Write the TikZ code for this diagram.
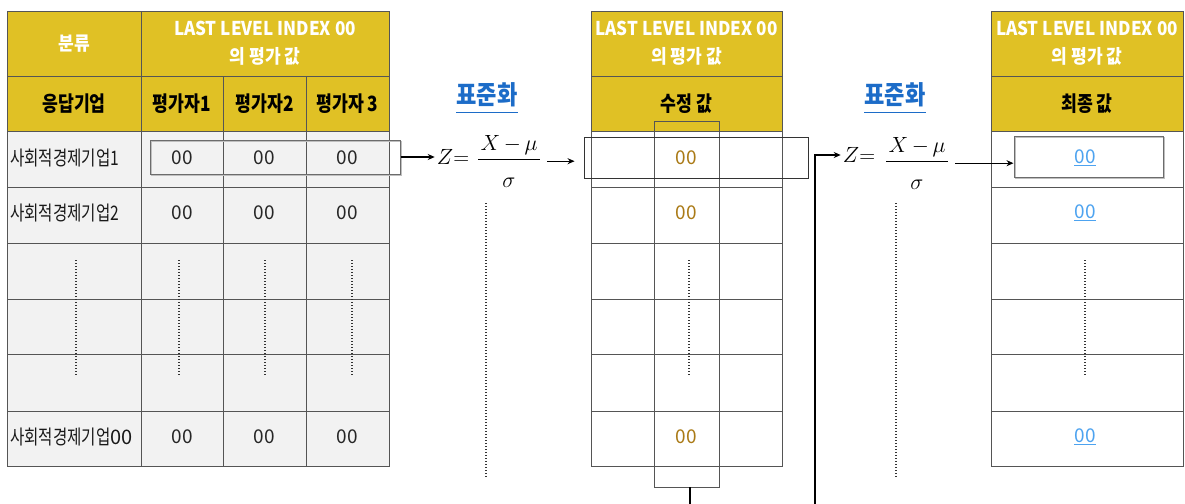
\RequirePackage{fix-cm}
\documentclass[tikz,border=0pt]{standalone}
\usepackage{fontspec}
\usepackage{amsmath}
\usetikzlibrary{arrows.meta,calc}
\newfontfamily\krc[FakeStretch=0.78]{Noto Sans CJK KR}
\newfontfamily\krh[FakeStretch=0.82]{Noto Sans CJK KR}
\newfontfamily\krw[FakeStretch=0.90]{Noto Sans CJK KR}
\newfontfamily\krn{Noto Sans CJK KR}
\newfontfamily\krt[FakeStretch=0.85]{Noto Sans CJK KR}
\definecolor{hgold}{RGB}{224,193,37}
\definecolor{bodyg}{RGB}{242,242,242}
\definecolor{gridc}{RGB}{85,85,85}
\definecolor{brownv}{RGB}{170,122,22}
\definecolor{bluev}{RGB}{77,163,240}
\definecolor{blueh}{RGB}{28,108,200}
\tikzset{
  hcell/.style={draw=gridc, line width=0.9pt, fill=hgold, inner sep=0pt},
  bcellg/.style={draw=gridc, line width=0.9pt, fill=bodyg, inner sep=0pt},
  bcellw/.style={draw=gridc, line width=0.9pt, fill=white, inner sep=0pt},
  wtxt/.style={text=white, align=center, font={\krw\bfseries\fontsize{19}{28}\selectfont}},
  htxt/.style={text=black, font={\krh\bfseries\fontsize{21}{24}\selectfont}},
  ktxt/.style={text=black!90, anchor=west, inner sep=0pt, font={\krc\fontsize{20}{22}\selectfont}},
  ntxt/.style={text=black!85, font={\krn\fontsize{19}{22}\selectfont}},
  btxt/.style={text=brownv, font={\krn\fontsize{19}{22}\selectfont}},
  ltxt/.style={text=bluev, font={\krn\fontsize{19}{22}\selectfont}},
  dots/.style={line width=1.1pt, black!80, dash pattern=on 1pt off 2pt},
  hlbox/.style={draw=gray!85!black, line width=1pt, inner sep=0pt,
    preaction={draw=gray!50, line width=1.8pt, transform canvas={shift={(1.4pt,-1.4pt)}}}},
  frame/.style={draw=black!80, line width=0.9pt, inner sep=0pt},
  arr/.style={line width=1.2pt, -{Stealth[length=7pt,width=6pt]}},
  conn/.style={line width=1.2pt},
  zeq/.style={inner sep=2pt, font=\fontsize{22}{26}\selectfont},
  fml/.style={inner sep=0pt, font=\fontsize{22}{26}\selectfont},
  std/.style={text=blueh, inner sep=0pt, font={\krt\bfseries\fontsize{26}{28}\selectfont}},
}
\newcommand{\zlhs}{$Z{=}$}
\newcommand{\zfrac}{$\dfrac{\mkern2mu X\mkern3mu{-}\mkern3mu\mu\mkern2mu}{\rule{0pt}{25pt}\sigma}$}
\begin{document}
\begin{tikzpicture}[x=1pt,y=-1pt]
\useasboundingbox (0,0) rectangle (1185,503);
\fill[white] (0,0) rectangle (1185,503);

% ---------- left table ----------
\node[hcell, minimum width=134, minimum height=65] (lh1) at (74,43.5) {};
\node[wtxt] (lh1t) at (74,43.5) {분류};
\node[hcell, minimum width=248, minimum height=65] (lh2) at (265,43.5) {};
\node[wtxt] (lh2t) at (265,43.5) {LAST LEVEL INDEX 00\\의 평가 값};
\node[hcell, minimum width=134, minimum height=55] (lh3) at (74,103.5) {};
\node[htxt] (lh3t) at (74,103.5) {응답기업};
\node[hcell, minimum width=82, minimum height=55] (lh4) at (182,103.5) {};
\node[htxt] (lh4t) at (182,103.5) {평가자1};
\node[hcell, minimum width=83, minimum height=55] (lh5) at (264.5,103.5) {};
\node[htxt] (lh5t) at (264.5,103.5) {평가자2};
\node[hcell, minimum width=83, minimum height=55] (lh6) at (347.5,103.5) {};
\node[htxt] (lh6t) at (347.5,103.5) {평가자 3};

\foreach \a/\b/\i in {131/187/1,187/243/2,243/299/3,299/354/4,354/411/5,411/466/6}{
  \node[bcellg, minimum width=134, minimum height={\b-\a}] (l\i a) at (74,{(\a+\b)/2}) {};
  \node[bcellg, minimum width=82, minimum height={\b-\a}] (l\i b) at (182,{(\a+\b)/2}) {};
  \node[bcellg, minimum width=83, minimum height={\b-\a}] (l\i c) at (264.5,{(\a+\b)/2}) {};
  \node[bcellg, minimum width=83, minimum height={\b-\a}] (l\i d) at (347.5,{(\a+\b)/2}) {};
}
\node[ktxt] (k1) at (10,158) {사회적경제기업1};
\node[ktxt] (k2) at (10,213) {사회적경제기업2};
\node[ktxt] (k6) at (10,437) {사회적경제기업{\krn 00}};
\foreach \y/\i in {158/1,213/2,437/6}{
  \node[ntxt] (n\i b) at (182,\y) {00};
  \node[ntxt] (n\i c) at (264.5,\y) {00};
  \node[ntxt] (n\i d) at (347.5,\y) {00};
}
\foreach \x in {76,179,265,352}{\draw[dots] (\x,260) -- (\x,376);}

\node[hlbox, minimum width=250, minimum height=34] (L1) at (275,157) {};

% ---------- formula 1 ----------
\node[std] (S1) at (487,95) {표준화};
\draw[blueh, line width=1.5pt] ([yshift=-5pt]S1.south west) -- ([yshift=-5pt]S1.south east);
\node[zeq] (F1z) at (453,157) {\zlhs};
\node[fml] (F1) at (509,161.2) {\zfrac};
\draw[dots] (486,203) -- (486,478);

% ---------- middle table ----------
\node[hcell, minimum width=191, minimum height=65] (mh1) at (686.5,43.5) {};
\node[wtxt] (mh1t) at (686.5,43.5) {LAST LEVEL INDEX 00\\의 평가 값};
\node[hcell, minimum width=191, minimum height=55] (mh2) at (686.5,103.5) {};
\node[htxt] (mh2t) at (686.5,103.5) {수정 값};
\foreach \a/\b/\i in {131/187/1,187/243/2,243/299/3,299/354/4,354/411/5,411/466/6}{
  \node[bcellw, minimum width=191, minimum height={\b-\a}] (m\i) at (686.5,{(\a+\b)/2}) {};
}
\foreach \y/\i in {158/1,213/2,437/6}{\node[btxt] (mv\i) at (686,\y) {00};}
\draw[dots] (689,260) -- (689,376);
\node[frame, draw=gridc, minimum width=65, minimum height=366] (MI) at (686.5,304) {};
\node[frame, minimum width=224, minimum height=41] (M1) at (696,157.5) {};

% ---------- formula 2 ----------
\node[std] (S2) at (895,95) {표준화};
\draw[blueh, line width=1.5pt] ([yshift=-5pt]S2.south west) -- ([yshift=-5pt]S2.south east);
\node[zeq] (F2z) at (859,155) {\zlhs};
\node[fml] (F2) at (917,163.2) {\zfrac};
\draw[dots] (896,203) -- (896,478);

% ---------- right table ----------
\node[hcell, minimum width=192, minimum height=65] (rh1) at (1087,43.5) {};
\node[wtxt] (rh1t) at (1087,43.5) {LAST LEVEL INDEX 00\\의 평가 값};
\node[hcell, minimum width=192, minimum height=55] (rh2) at (1087,103.5) {};
\node[htxt] (rh2t) at (1087,103.5) {최종 값};
\foreach \a/\b/\i in {131/187/1,187/243/2,243/299/3,299/354/4,354/411/5,411/466/6}{
  \node[bcellw, minimum width=192, minimum height={\b-\a}] (r\i) at (1087,{(\a+\b)/2}) {};
}
\foreach \y/\i in {158/1,213/2,437/6}{\node[ltxt] (rv\i) at (1085,\y) {\underline{00}};}
\draw[dots] (1085,260) -- (1085,376);
\node[hlbox, minimum width=149, minimum height=41] (R1) at (1088.5,156.5) {};

% ---------- connectors ----------
\draw[arr] (F1z.west -| L1.east) -- (F1z.west);
\draw[arr, shorten <=6pt, shorten >=9pt] (F1.east) -- (F1.east -| M1.west);
\coordinate (bend) at (815,520);
\draw[conn] ([xshift=3.5pt]MI.south) -- ([xshift=3.5pt]MI.south |- bend) -- (bend);
\draw[arr] (bend) -- (bend |- F2z.west) -- (F2z.west);
\draw[arr, shorten <=6pt] (F2.east) -- (F2.east -| R1.west);
\end{tikzpicture}
\end{document}
